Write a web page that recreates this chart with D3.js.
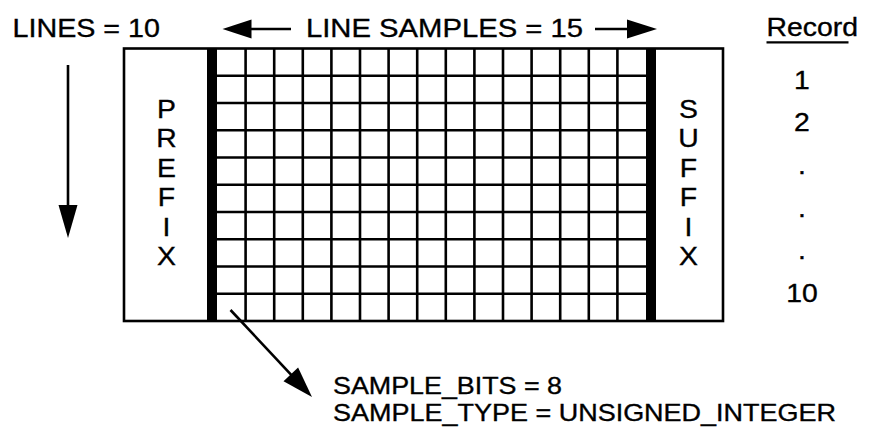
<!DOCTYPE html>
<html><head><meta charset="utf-8">
<script src="https://cdn.jsdelivr.net/npm/d3@7"></script>
<style>
html,body{margin:0;padding:0;background:#fff;}
text{font-family:"Liberation Sans",Arial,Helvetica,sans-serif;fill:#000;stroke:#000;stroke-width:0.35px;}
</style></head>
<body>
<svg id="c" width="884" height="428"></svg>
<script>
// ---- data ----
const lineCount = 10;
const lineSamples = 15;
const prefixLetters = ["P","R","E","F","I","X"];
const suffixLetters = ["S","U","F","F","I","X"];
const recordHeader = "Record";
const recordLabels = ["1","2",".",".",".","10"];
const topLeftLabel = "LINES = 10";
const topCenterLabel = "LINE SAMPLES = 15";
const sampleInfo = ["SAMPLE_BITS = 8","SAMPLE_TYPE = UNSIGNED_INTEGER"];

const svg = d3.select("#c");
const FS = 26.5;

// scales
const x = d3.scaleLinear().domain([0, lineSamples]).range([217, 646]);
const y = d3.scaleLinear().domain([0, lineCount]).range([48.5, 321]);
const box = {x0:124, x1:723};

// grid lines
const g = svg.append("g").attr("stroke","#000").attr("stroke-width",2.6);
g.selectAll("line.v").data(d3.range(1, lineSamples)).join("line")
  .attr("x1", d=>x(d)).attr("x2", d=>x(d))
  .attr("y1", y(0)).attr("y2", y(lineCount));
g.selectAll("line.h").data(d3.range(1, lineCount)).join("line")
  .attr("x1", x(0)).attr("x2", x(lineSamples))
  .attr("y1", d=>y(d)).attr("y2", d=>y(d));

// thick bars
svg.append("rect").attr("x", x(0)-10).attr("y", y(0)).attr("width",10).attr("height", y(lineCount)-y(0)).attr("fill","#000");
svg.append("rect").attr("x", x(lineSamples)).attr("y", y(0)).attr("width",10).attr("height", y(lineCount)-y(0)).attr("fill","#000");

// outer box
svg.append("rect").attr("x", box.x0).attr("y", y(0)).attr("width", box.x1-box.x0).attr("height", y(lineCount)-y(0))
  .attr("fill","none").attr("stroke","#000").attr("stroke-width",2.6);

// vertical letters
const letterY = d3.scaleLinear().domain([0,5]).range([117.5, 265]);
function vLetters(letters, cx){
  svg.append("g").selectAll("text").data(letters).join("text")
    .attr("transform",(d,i)=>`translate(${cx},${letterY(i)}) scale(1.07,1)`)
    .attr("text-anchor","middle").attr("font-size",FS).text(d=>d);
}
vLetters(prefixLetters, 166.5);
vLetters(suffixLetters, 688.5);

// record column
const recY = d3.scaleLinear().domain([0, recordLabels.length-1]).range([88.5, 302]);
svg.selectAll("text.rec").data(recordLabels).join("text")
  .attr("transform",(d,i)=>`translate(802,${recY(i)}) scale(1.07,1)`)
  .attr("text-anchor","middle").attr("font-size",FS).text(d=>d);
svg.append("text").attr("x",766.5).attr("y",35.7).attr("font-size",FS)
  .attr("textLength",91.5).attr("lengthAdjust","spacingAndGlyphs").text(recordHeader);
svg.append("line").attr("x1",766.5).attr("x2",848.5).attr("y1",42.3).attr("y2",42.3).attr("stroke","#000").attr("stroke-width",2.2);

// top labels
svg.append("text").attr("x",12.5).attr("y",37.3).attr("font-size",FS)
  .attr("textLength",147.5).attr("lengthAdjust","spacingAndGlyphs").text(topLeftLabel);
svg.append("text").attr("x",306).attr("y",36.5).attr("font-size",FS)
  .attr("textLength",277).attr("lengthAdjust","spacingAndGlyphs").text(topCenterLabel);

// bottom info
svg.selectAll("text.info").data(sampleInfo).join("text")
  .attr("x",333).attr("y",(d,i)=>393.8 + i*27.6).attr("font-size",24.6)
  .attr("textLength",(d,i)=> i===0 ? 229 : 503).attr("lengthAdjust","spacingAndGlyphs").text(d=>d);

// arrows
function arrow(x1,y1,x2,y2,hl,hw){
  const a = Math.atan2(y2-y1, x2-x1);
  const bx = x2 - hl*Math.cos(a), by = y2 - hl*Math.sin(a);
  svg.append("line").attr("x1",x1).attr("y1",y1).attr("x2",bx+2*Math.cos(a)).attr("y2",by+2*Math.sin(a))
    .attr("stroke","#000").attr("stroke-width",2.6);
  const px = -Math.sin(a)*hw, py = Math.cos(a)*hw;
  svg.append("path").attr("d", d3.line()([[x2,y2],[bx+px,by+py],[bx-px,by-py]]) + "Z").attr("fill","#000");
}
arrow(291, 29, 222.5, 29, 29, 9.5);
arrow(595, 29, 657, 29, 30, 9.5);
arrow(68, 65, 68, 238, 33, 9.5);
arrow(230.5, 310, 312, 397, 31, 10);
</script>
</body></html>
